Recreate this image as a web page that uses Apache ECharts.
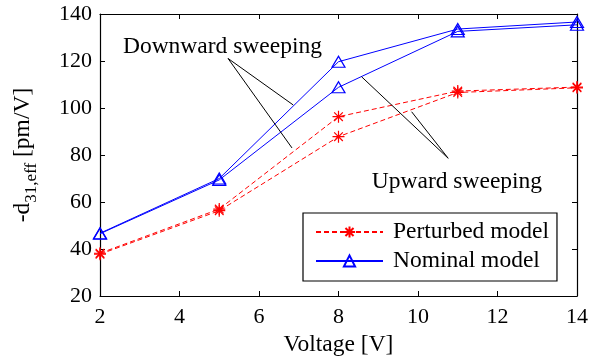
<!DOCTYPE html>
<html>
<head>
<meta charset="utf-8">
<script src="https://cdn.jsdelivr.net/npm/echarts@6/dist/echarts.min.js"></script>
<style>
  html, body { margin: 0; padding: 0; background: #fff; }
  #chart { width: 599px; height: 363px; }
</style>
</head>
<body>
<div id="chart"></div>
<script>
// measured values
const voltage = [2, 5, 8, 11, 14];
const nominalDown = [46.7, 70, 119.7, 133.6, 136.6];
const nominalUp = [46.5, 69.4, 108.8, 132.6, 135.4];
const perturbedDown = [38.2, 57, 96.3, 107.2, 108.9];
const perturbedUp = [37.8, 56.3, 87.8, 106.6, 108.6];
const xTicks = [2, 4, 6, 8, 10, 12, 14];
const yTicks = [20, 40, 60, 80, 100, 120, 140];

// annotation pointers (data coords)
const downLabel = [5.08, 126];
const downArrows = [[[5.22, 121.1], [6.86, 101.3]], [[5.22, 121.1], [6.83, 83.0]]];
const upLabel = [10.98, 68.6];
const upArrows = [[[10.76, 78.6], [8.58, 113.3]], [[10.76, 78.6], [9.84, 98.4]]];

const FONT = '"Liberation Serif", "DejaVu Serif", serif';
const BLUE = '#0000ff';
const RED = '#ff0000';
const STAR = 'path://M0,-5L0,5M-5,0L5,0M-3.6,-3.6L3.6,3.6M-3.6,3.6L3.6,-3.6';
const TXT = 23.5;
const TICK = 22;

const pairs = ys => voltage.map((v, i) => [v, ys[i]]);

const nominal = (data) => ({
  name: 'Nominal model',
  type: 'line',
  data: pairs(data),
  symbol: 'triangle',
  symbolSize: [13, 11],
  lineStyle: {color: BLUE, width: 1},
  itemStyle: {color: 'rgba(0,0,0,0)', borderColor: BLUE, borderWidth: 1.2},
  z: 3
});
const perturbed = (data) => ({
  name: 'Perturbed model',
  type: 'line',
  data: pairs(data),
  symbol: STAR,
  symbolSize: 12,
  lineStyle: {color: RED, width: 1, type: [5, 3]},
  itemStyle: {color: 'rgba(0,0,0,0)', borderColor: RED, borderWidth: 1.2},
  z: 2
});

const arrowLines = arr => arr.map(a => [{coord: a[0]}, {coord: a[1]}]);

const myChart = echarts.init(document.getElementById('chart'));
myChart.setOption({
  animation: false,
  textStyle: {fontFamily: FONT},
  grid: {left: 100, top: 14, right: 22, bottom: 67},
  legend: {
    orient: 'vertical',
    left: 303, top: 213,
    data: ['Perturbed model', 'Nominal model'],
    itemWidth: 67, itemHeight: 14, itemGap: 5,
    padding: [7, 8, 8, 12],
    borderColor: '#000', borderWidth: 1.2,
    backgroundColor: '#fff',
    textStyle: {fontFamily: FONT, fontSize: TXT, color: '#000', lineHeight: 23, padding: [0, 0, 0, 5]}
  },
  xAxis: [{
    type: 'value', min: 2, max: 14, interval: 2,
    name: 'Voltage [V]', nameLocation: 'middle', nameGap: 35,
    nameTextStyle: {fontFamily: FONT, fontSize: TXT, color: '#000'},
    axisLine: {lineStyle: {color: '#000', width: 1.2}},
    axisTick: {inside: true, length: 5, lineStyle: {color: '#000'}},
    axisLabel: {fontFamily: FONT, fontSize: TICK, color: '#000', margin: 10},
    splitLine: {show: false}
  }, {
    type: 'value', min: 2, max: 14, interval: 2, position: 'top',
    axisLine: {show: true, lineStyle: {color: '#000', width: 1.2}},
    axisTick: {inside: true, length: 5, lineStyle: {color: '#000'}},
    axisLabel: {show: false}, splitLine: {show: false}
  }],
  yAxis: [{
    type: 'value', min: 20, max: 140, interval: 20,
    name: '{a|-d}{s|31,eff}{a| [pm/V]}', nameLocation: 'middle', nameGap: 60,
    nameTextStyle: {
      color: '#000',
      rich: {
        a: {fontFamily: FONT, fontSize: TXT, color: '#000', lineHeight: 34, verticalAlign: 'middle'},
        s: {fontFamily: FONT, fontSize: 17, color: '#000', lineHeight: 34, verticalAlign: 'bottom'}
      }
    },
    axisLine: {show: true, lineStyle: {color: '#000', width: 1.2}},
    axisTick: {inside: true, length: 5, lineStyle: {color: '#000'}},
    axisLabel: {fontFamily: FONT, fontSize: TICK, color: '#000', margin: 8},
    splitLine: {show: false}
  }, {
    type: 'value', min: 20, max: 140, interval: 20, position: 'right',
    axisLine: {show: true, lineStyle: {color: '#000', width: 1.2}},
    axisTick: {inside: true, length: 5, lineStyle: {color: '#000'}},
    axisLabel: {show: false}, splitLine: {show: false}
  }],
  series: [
    perturbed(perturbedDown),
    perturbed(perturbedUp),
    nominal(nominalDown),
    nominal(nominalUp),
    {
      type: 'line', data: [], silent: true,
      markLine: {
        silent: true, symbol: 'none', animation: false,
        lineStyle: {color: '#000', width: 1, type: 'solid'},
        label: {show: false},
        data: arrowLines(downArrows).concat(arrowLines(upArrows))
      },
      markPoint: {
        silent: true, symbol: 'circle', symbolSize: 0,
        label: {show: true, fontFamily: FONT, fontSize: TXT, color: '#000', position: 'inside',
          formatter: p => p.name},
        data: [
          {name: 'Downward sweeping', coord: downLabel},
          {name: 'Upward sweeping', coord: upLabel}
        ]
      }
    }
  ]
});
</script>
</body>
</html>
